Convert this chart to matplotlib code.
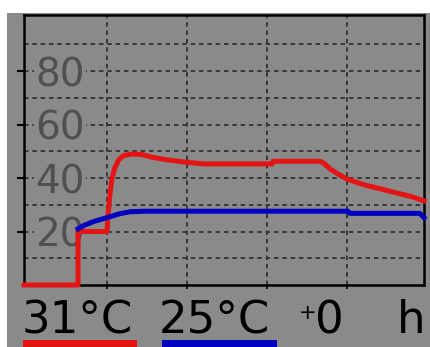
import matplotlib
matplotlib.use("Agg")
import matplotlib.pyplot as plt
from matplotlib.patches import Rectangle

# logger samples, x = sample index across the 400 px wide plot window
red_t = [0, 54, 54, 83, 84, 86, 88, 91, 95, 100, 108, 118, 128, 140, 160, 180,
         248, 249, 296, 300, 306, 314, 324, 340, 356, 372, 388, 400]
red_v = [0, 0, 20, 20, 26, 34, 40, 44, 47, 48.5, 49, 48.8, 47.8, 47, 46, 45.3,
         45.3, 46.3, 46.3, 45.5, 43.5, 41.5, 39.5, 37.5, 36, 34.5, 33, 31.5]
blue_t = [54, 60, 70, 83, 95, 106, 120, 324, 326, 396, 400]
blue_v = [21, 22.3, 23.8, 25.2, 26.6, 27.4, 27.6, 27.6, 26.8, 26.8, 25.2]

ytick_vals = [20, 40, 60, 80]
ygrid_vals = [10, 30, 50, 70, 90]
xgrid_vals = [83, 163, 243, 323]

red_label = "31°C"
blue_label = "25°C"
offset_sign = "+"
offset_val = "0"
unit_label = "h"

bg = "#8a8a8a"
W, H = 430, 347
plt.rcParams['lines.scale_dashes'] = False
plt.rcParams['font.family'] = ['DejaVu Sans']

fig = plt.figure(figsize=(W / 100, H / 100), dpi=100, facecolor='white')
fig.patches.append(Rectangle((7 / W, 0), 1, 1 - 13 / H, transform=fig.transFigure,
                             facecolor=bg, edgecolor='none', zorder=-10))

ax = fig.add_axes([24 / W, 1 - 285 / H, 400 / W, 270 / H])
ax.set_facecolor(bg)
ax.set_xlim(0, 400)
ax.set_ylim(0, 101)
ax.set_axisbelow(True)

ax.set_yticks(ytick_vals)
ax.set_yticks(ygrid_vals, minor=True)
ax.set_xticks(xgrid_vals)
ax.tick_params(axis='y', which='major', direction='out', length=5, width=1.5,
               pad=-13, labelsize=28, labelcolor='#505050')
ax.tick_params(axis='y', which='minor', length=0)
ax.tick_params(axis='x', direction='out', length=3, width=1.2, labelbottom=False)
for lbl in ax.get_yticklabels():
    lbl.set_horizontalalignment('left')
    lbl.set_bbox(dict(facecolor=bg, edgecolor='none', pad=1))

dash = (0, (3.2, 2.8))
ax.grid(which='major', color='#383838', linestyle=dash, linewidth=1.4)
ax.grid(axis='y', which='minor', color='#383838', linestyle=dash, linewidth=1.4)

for s in ax.spines.values():
    s.set_linewidth(1.8)
    s.set_color('black')

ax.plot(red_t, red_v, color='#e41414', lw=3.6, clip_on=False, zorder=3,
        solid_joinstyle='round')
ax.plot(blue_t, blue_v, color='#0000c0', lw=3.6, clip_on=False, zorder=3.5,
        solid_joinstyle='round')

# readout row under the chart
base = 1 - 333 / H
fig.text(22 / W, base, red_label, fontsize=32.5, va='baseline', color='black')
fig.text(159 / W, base, blue_label, fontsize=32.5, va='baseline', color='black')
fig.text(299 / W, 1 - 319 / H, offset_sign, fontsize=15, va='baseline', color='black')
fig.text(315 / W, base, offset_val, fontsize=32.5, va='baseline', color='black')
fig.text(397 / W, base, unit_label, fontsize=32.5, va='baseline', color='black')

fig.patches.append(Rectangle((23 / W, 0), 114 / W, 7 / H, transform=fig.transFigure,
                             facecolor='#e41414', edgecolor='none'))
fig.patches.append(Rectangle((162 / W, 0), 115 / W, 7 / H, transform=fig.transFigure,
                             facecolor='#0000c0', edgecolor='none'))

fig.savefig('out.png', dpi=100, facecolor='white')
